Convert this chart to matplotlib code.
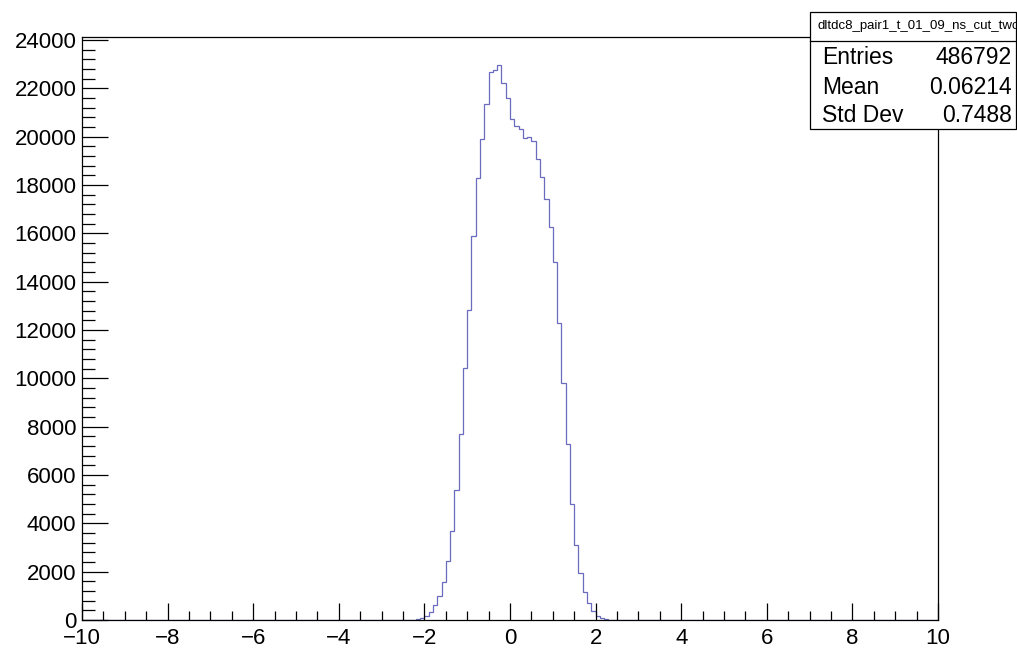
import numpy as np
import matplotlib
matplotlib.use("Agg")
import matplotlib.pyplot as plt
from matplotlib.patches import Rectangle
from matplotlib.lines import Line2D
from matplotlib.ticker import MultipleLocator

# ---- data ----
x_min, x_max, n_bins = -10.0, 10.0, 200
first_filled_edge = -2.6          # left edge of first non-empty bin
counts_left = [3, 5, 8, 15, 40, 80, 165, 340, 600, 1010, 1560, 2460, 3700,
               5380, 7680, 10420, 12830, 15890, 18300, 19890, 21340, 22660,
               22760, 22970, 22210, 21580]
counts_right = [20730, 20440, 20300, 19960, 19970, 19820, 19060, 18340,
                17410, 16250, 14830, 12300, 9790, 7280, 4800, 3120, 1930,
                1140, 690, 380, 170, 75, 40, 20, 10, 4]
x_ticks = [-10, -8, -6, -4, -2, 0, 2, 4, 6, 8, 10]
y_ticks = [0, 2000, 4000, 6000, 8000, 10000, 12000, 14000, 16000, 18000,
           20000, 22000, 24000]
hist_name = "dltdc8_pair1_t_01_09_ns_cut_twc"
stat_labels = ["Entries", "Mean", "Std Dev"]
stat_values = ["486792", "0.06214", "0.7488"]

# ---- build full histogram ----
edges = np.linspace(x_min, x_max, n_bins + 1)
counts = np.zeros(n_bins)
start = int(round((first_filled_edge - x_min) / (edges[1] - edges[0])))
filled = counts_left + counts_right
counts[start:start + len(filled)] = filled

plt.rcParams['font.family'] = ['Liberation Sans', 'DejaVu Sans']

W, H = 1017, 650
fig = plt.figure(figsize=(W / 100, H / 100), dpi=100)
L, R, T, B = 82, 938, 37, 620
ax = fig.add_axes([L / W, 1 - B / H, (R - L) / W, (B - T) / H])

ax.stairs(counts, edges, color='#6a6abf', linewidth=0.9, baseline=0)

ax.set_xlim(x_min, x_max)
ax.set_ylim(0, 24120)
ax.set_xticks(x_ticks)
ax.set_xticklabels([("\u2212" + str(-t)) if t < 0 else str(t) for t in x_ticks])
ax.set_yticks(y_ticks)
ax.set_yticklabels([str(t) for t in y_ticks])
ax.xaxis.set_minor_locator(MultipleLocator(0.5))
ax.yaxis.set_minor_locator(MultipleLocator(400))

ax.tick_params(axis='x', which='major', direction='in', length=12.6, width=0.9,
               labelsize=16, pad=5.5, top=False)
ax.tick_params(axis='x', which='minor', direction='in', length=6.3, width=0.9,
               top=False)
ax.tick_params(axis='y', which='major', direction='in', length=18.5, width=0.9,
               labelsize=16, pad=4, right=False)
ax.tick_params(axis='y', which='minor', direction='in', length=9.2, width=0.9,
               right=False)
for s in ax.spines.values():
    s.set_linewidth(0.9)
    s.set_color('black')

# ---- stats box ----
bx0, bx1, by0, by1, bsep = 810, 1016, 12, 129, 41
fig.add_artist(Rectangle((bx0 / W, 1 - by1 / H), (bx1 - bx0) / W,
                         (by1 - by0) / H, transform=fig.transFigure,
                         facecolor='white', edgecolor='black', linewidth=0.9,
                         zorder=5))
fig.add_artist(Line2D([bx0 / W, bx1 / W], [1 - bsep / H, 1 - bsep / H],
                      transform=fig.transFigure, color='black', linewidth=0.9,
                      zorder=6))
fig.text(818 / W, 1 - 26.5 / H, hist_name, fontsize=9.5, ha='left',
         va='center', zorder=7)
row_y = [58, 87, 115]
for lab, val, yy in zip(stat_labels, stat_values, row_y):
    fig.text(822 / W, 1 - yy / H, lab, fontsize=16.5, ha='left', va='center',
             zorder=7)
    fig.text(1012 / W, 1 - yy / H, val, fontsize=16.5, ha='right', va='center',
             zorder=7)

fig.savefig("out.png", dpi=100)
